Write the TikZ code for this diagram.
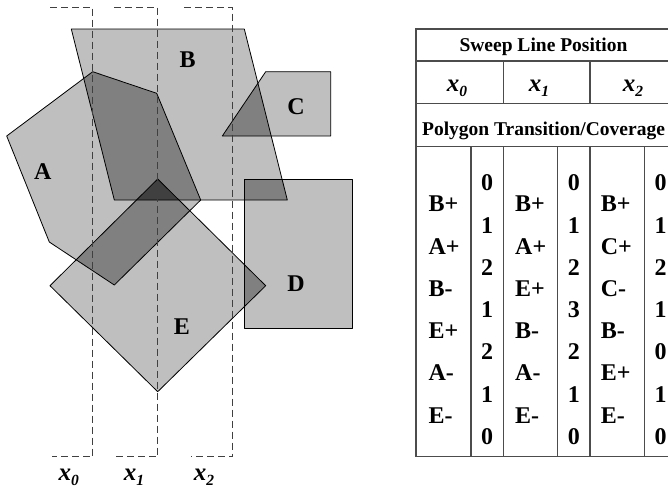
\documentclass[tikz,border=0pt]{standalone}
\usepackage{fontspec}
\setmainfont{Liberation Serif}
\usepackage{tikz}

\definecolor{fillone}{gray}{0.75}
\definecolor{filltwo}{gray}{0.5}
\definecolor{fillthree}{gray}{0.25}
\newcommand{\xlab}[1]{\textbf{\textit{x\raisebox{-0.2em}{\scalebox{0.62}{#1}}}}}

\begin{document}
\begin{tikzpicture}[x=1pt,y=-1pt,
    poly/.style={draw=black, line width=0.8pt, line join=round},
    sweep/.style={draw=black!75, line width=1pt, dash pattern=on 7pt off 4pt},
    rule/.style={draw=black!70, line width=1.2pt},
    lbl/.style={inner sep=0pt, font=\fontsize{24}{24}\selectfont\bfseries},
    cell/.style={inner sep=0pt, anchor=base, font=\fontsize{24}{24}\selectfont\bfseries},
    xname/.style={inner sep=0pt, anchor=base, font=\fontsize{25}{25}\selectfont}]
\useasboundingbox (0,0) rectangle (668,488);

\def\polyA{(92.7,71.7) -- (156.7,93.3) -- (200.7,200) -- (114.3,285) -- (49.3,242) -- (6.7,136) -- cycle}
\def\polyB{(71.3,29) -- (244.3,29) -- (287.3,200) -- (114.3,200) -- cycle}
\def\polyC{(265.7,71.7) -- (330.7,71.7) -- (330.7,136) -- (222.3,136) -- cycle}
\def\polyD{(244.3,179) rectangle (352.3,328.3)}
\def\polyE{(157.7,179) -- (265.7,285.7) -- (157.7,391.7) -- (50,285.7) -- cycle}

% polygons
\fill[fillone] \polyA;
\fill[fillone] \polyB;
\fill[fillone] \polyC;
\fill[fillone] \polyD;
\fill[fillone] \polyE;
% overlaps
\begin{scope}
  \clip \polyA;
  \fill[filltwo] \polyB;
  \fill[filltwo] \polyE;
\end{scope}
\begin{scope}
  \clip \polyB;
  \fill[filltwo] \polyC;
  \fill[filltwo] \polyD;
  \fill[filltwo] \polyE;
\end{scope}
\begin{scope}
  \clip \polyD;
  \fill[filltwo] \polyE;
\end{scope}
\begin{scope}
  \clip \polyA;
  \clip \polyB;
  \fill[fillthree] \polyE;
\end{scope}
\draw[poly] \polyA;
\draw[poly] \polyB;
\draw[poly] \polyC;
\draw[poly] \polyD;
\draw[poly] \polyE;

\node[lbl] (labA) at (42.7,171.7) {A};
\node[lbl] (labB) at (187.7,59.3) {B};
\node[lbl] (labC) at (296,106.7) {C};
\node[lbl] (labD) at (296,283.3) {D};
\node[lbl] (labE) at (182,326.7) {E};

% sweep lines
\draw[sweep] (50,7.3) -- (92.7,7.3) -- (92.7,456.7) -- (52,456.7);
\draw[sweep] (114,7.3) -- (157.7,7.3) -- (157.7,456.7) -- (116,456.7);
\draw[sweep] (184,7.3) -- (232.7,7.3) -- (232.7,456.7) -- (190.7,456.7);
\node[xname] (sx0) at (68.8,480) {\xlab{0}};
\node[xname] (sx1) at (134,480) {\xlab{1}};
\node[xname] (sx2) at (204,480) {\xlab{2}};

% table
\draw[rule] (668,29) -- (416,29) -- (416,456.7) -- (668,456.7);
\draw[rule] (416,61) -- (668,61);
\draw[rule] (416,103.3) -- (668,103.3);
\draw[rule] (416,146.7) -- (668,146.7);
\foreach \cx in {503.3,590}
  \draw[rule] (\cx,61) -- (\cx,103.3);
\foreach \cx in {471,503.3,557.7,590,644.3}
  \draw[rule] (\cx,146.7) -- (\cx,456.7);

\node[cell, font=\fontsize{19.5}{20}\selectfont\bfseries] (head) at (543.5,51) {Sweep Line Position};
\node[xname] (tx0) at (457,91.7) {\xlab{0}};
\node[xname] (tx1) at (539,91.7) {\xlab{1}};
\node[xname] (tx2) at (633,91.7) {\xlab{2}};
\node[cell, font=\fontsize{19.5}{20}\selectfont\bfseries] (trans) at (543.5,135) {Polygon Transition/Coverage};

\foreach \t [count=\i] in {B+,A+,B-,E+,A-,E-}
  \node[cell, anchor=base west] (ta\i) at (428.3,211.7+42.3*\i-42.3) {\t};
\foreach \t [count=\i] in {B+,A+,E+,B-,A-,E-}
  \node[cell, anchor=base west] (tb\i) at (515,211.7+42.3*\i-42.3) {\t};
\foreach \t [count=\i] in {B+,C+,C-,B-,E+,E-}
  \node[cell, anchor=base west] (tc\i) at (600.7,211.7+42.3*\i-42.3) {\t};
\foreach \n [count=\i] in {0,1,2,1,2,1,0}
  \node[cell] (na\i) at (487.2,190.7+42.3*\i-42.3) {\n};
\foreach \n [count=\i] in {0,1,2,3,2,1,0}
  \node[cell] (nb\i) at (573.8,190.7+42.3*\i-42.3) {\n};
\foreach \n [count=\i] in {0,1,2,1,0,1,0}
  \node[cell] (nc\i) at (660.5,190.7+42.3*\i-42.3) {\n};
\end{tikzpicture}
\end{document}
